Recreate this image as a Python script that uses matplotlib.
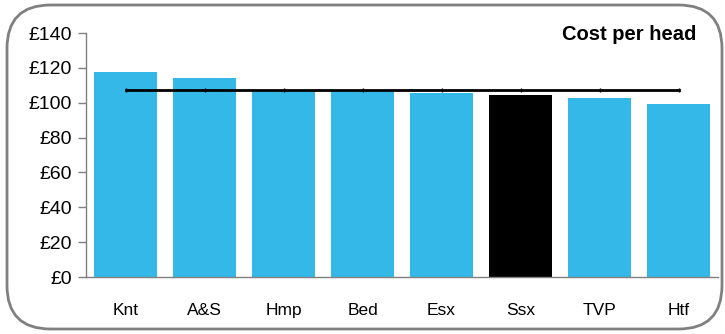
import matplotlib
matplotlib.use("Agg")
import matplotlib.pyplot as plt
from matplotlib.patches import FancyBboxPatch

plt.rcParams['font.family'] = ['Liberation Sans', 'DejaVu Sans']

# data
regions = ['Knt', 'A&S', 'Hmp', 'Bed', 'Esx', 'Ssx', 'TVP', 'Htf']
cost_per_head = [117.6, 114.3, 107.4, 107.5, 105.8, 104.5, 102.8, 99.4]
bar_colors = ['#33b8e8', '#33b8e8', '#33b8e8', '#33b8e8', '#33b8e8', '#000000', '#33b8e8', '#33b8e8']
average = 107.2
yticks = [0, 20, 40, 60, 80, 100, 120, 140]

fig = plt.figure(figsize=(7.25, 3.34), dpi=100)

# rounded grey frame round the whole chart
frame = FancyBboxPatch((7 / 725, 5 / 334), 715 / 725, 324 / 334,
                       boxstyle="round,pad=0,rounding_size=0.06",
                       transform=fig.transFigure, fill=False,
                       edgecolor='#808080', linewidth=2, mutation_aspect=725 / 334)
fig.patches.append(frame)

ax = fig.add_axes([86 / 725, 57 / 334, 632 / 725, 244 / 334])
x = list(range(len(regions)))
ax.bar(x, cost_per_head, width=0.81, color=bar_colors, zorder=2)
ax.plot(x, [average] * len(regions), color='black', linewidth=2,
        marker='|', markersize=3, zorder=3)

ax.set_xlim(-0.5, len(regions) - 0.5)
ax.set_ylim(0, 140)
ax.set_yticks(yticks)
ax.set_yticklabels(['£%d' % v for v in yticks], fontsize=14)
ax.set_xticks(x)
ax.set_xticklabels(regions, fontsize=12.5)
ax.tick_params(axis='x', length=0, pad=19)
ax.tick_params(axis='y', length=6, color='#808080', width=1, pad=4)

for side in ['top', 'right']:
    ax.spines[side].set_visible(False)
for side in ['left', 'bottom']:
    ax.spines[side].set_color('#808080')
    ax.spines[side].set_linewidth(1)

fig.text(696 / 725, 1 - 34 / 334, 'Cost per head', fontsize=14.5, fontweight='bold',
         ha='right', va='center')

plt.savefig('out.png', dpi=100)
